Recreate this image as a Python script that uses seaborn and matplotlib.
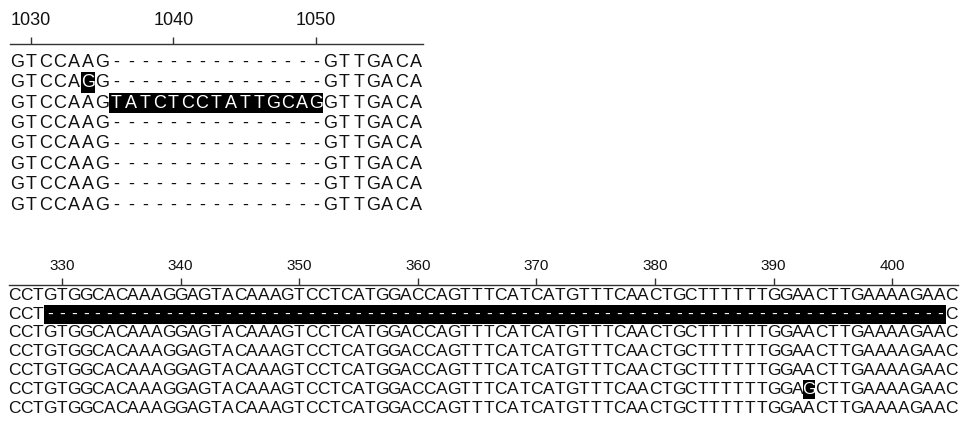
import numpy as np
import matplotlib
matplotlib.use("Agg")
import matplotlib.pyplot as plt
from matplotlib.colors import ListedColormap
import seaborn as sns

# top block: alignment around position 1030-1057
top_start = 1029
top_rows = [
    "GTCCAAG---------------GTTGACA",
    "GTCCAGG---------------GTTGACA",
    "GTCCAAGTATCTCCTATTGCAGGTTGACA",
    "GTCCAAG---------------GTTGACA",
    "GTCCAAG---------------GTTGACA",
    "GTCCAAG---------------GTTGACA",
    "GTCCAAG---------------GTTGACA",
    "GTCCAAG---------------GTTGACA",
]
top_highlight = [(1, 5, 6), (2, 7, 22)]  # (row, first col, end col)
top_ticks = [1030, 1040, 1050]

# bottom block: alignment around position 326-405
bottom_start = 326
bottom_rows = [
    "CCTGTGGCACAAAGGAGTACAAAGTCCTCATGGACCAGTTTCATCATGTTTCAACTGCTTTTTTGGAACTTGAAAAGAAC",
    "CCT" + "-" * 76 + "C",
    "CCTGTGGCACAAAGGAGTACAAAGTCCTCATGGACCAGTTTCATCATGTTTCAACTGCTTTTTTGGAACTTGAAAAGAAC",
    "CCTGTGGCACAAAGGAGTACAAAGTCCTCATGGACCAGTTTCATCATGTTTCAACTGCTTTTTTGGAACTTGAAAAGAAC",
    "CCTGTGGCACAAAGGAGTACAAAGTCCTCATGGACCAGTTTCATCATGTTTCAACTGCTTTTTTGGAACTTGAAAAGAAC",
    "CCTGTGGCACAAAGGAGTACAAAGTCCTCATGGACCAGTTTCATCATGTTTCAACTGCTTTTTTGGAGCTTGAAAAGAAC",
    "CCTGTGGCACAAAGGAGTACAAAGTCCTCATGGACCAGTTTCATCATGTTTCAACTGCTTTTTTGGAACTTGAAAAGAAC",
]
bottom_highlight = [(1, 3, 79), (5, 67, 68)]
bottom_ticks = [330, 340, 350, 360, 370, 380, 390, 400]

sns.set_style("white")
plt.rcParams["font.family"] = ["Liberation Sans", "DejaVu Sans"]

W, H = 961, 424
fig = plt.figure(figsize=(W / 100, H / 100), dpi=100)


def block(rows, highlight, start, ticks, box, top_gap, font, tick_font, pad):
    # box = (left, top line, right, bottom) in pixels from top-left
    x0, y0, x1, y1 = box
    ax = fig.add_axes([x0 / W, 1 - y1 / H, (x1 - x0) / W, (y1 - y0) / H])
    chars = np.array([list(r) for r in rows])
    marks = np.zeros(chars.shape)
    for r, a, b in highlight:
        marks[r, a:b] = 1
    sns.heatmap(marks, ax=ax, cmap=ListedColormap(["white", "black"]), vmin=0, vmax=1,
                cbar=False, annot=chars, fmt="", annot_kws={"fontsize": font})
    for t in ax.texts:
        if t.get_color() != "w":
            t.set_color("#111111")
    ax.set_ylim(len(rows), -top_gap)
    ax.set_yticks([])
    ax.xaxis.tick_top()
    ax.set_xticks([t - start + 0.5 for t in ticks])
    ax.set_xticklabels([str(t) for t in ticks], fontsize=tick_font, color="#111111")
    ax.tick_params(axis="x", top=True, bottom=False, direction="out", length=5,
                   width=1, color="#333333", pad=pad, rotation=0)
    for s in ax.spines.values():
        s.set_visible(False)
    ax.spines["top"].set_visible(True)
    ax.spines["top"].set_color("#333333")
    ax.spines["top"].set_linewidth(1)
    ax.set_xlabel("")
    ax.set_ylabel("")
    return ax


block(top_rows, top_highlight, top_start, top_ticks,
      (9.6, 44, 422.9, 215.3), 0.39, 13, 13, 6)
block(bottom_rows, bottom_highlight, bottom_start, bottom_ticks,
      (8.6, 285, 957.5, 417.6), 0.05, 12.5, 11, 4)

plt.savefig("out.png", dpi=100)
